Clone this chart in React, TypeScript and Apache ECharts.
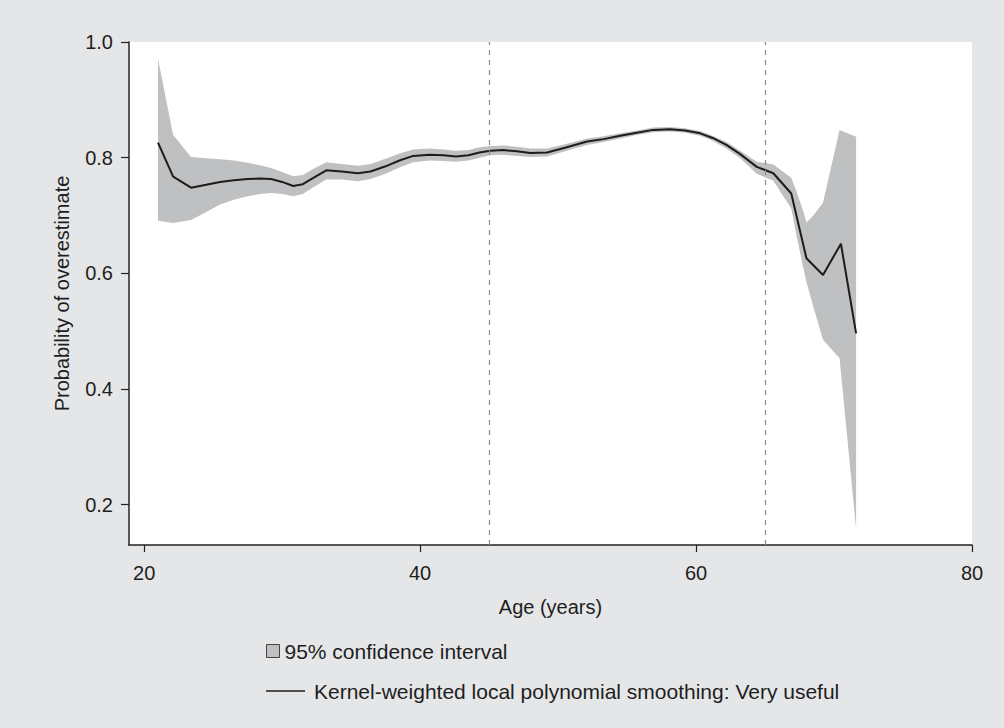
import React, { useEffect, useRef } from "react";
import * as echarts from "echarts";

// Kernel-weighted local polynomial smoothing (line)
const lineAges = [21.0, 22.1, 23.4, 24.5, 25.5, 26.5, 27.5, 28.4, 29.2, 30.0, 30.8, 31.5, 32.2, 33.2, 34.3, 35.5, 36.4, 37.5, 38.5, 39.5, 40.7, 41.7, 42.6, 43.5, 44.3, 45.1, 46.0, 47.0, 48.0, 49.2, 50.5, 52.1, 53.3, 54.5, 55.7, 56.9, 58.1, 59.2, 60.3, 61.2, 62.2, 63.2, 64.4, 65.6, 66.9, 68.0, 69.2, 70.5, 71.6];
const lineValues = [0.826, 0.767, 0.748, 0.753, 0.758, 0.761, 0.763, 0.764, 0.763, 0.758, 0.751, 0.754, 0.764, 0.778, 0.776, 0.773, 0.776, 0.785, 0.795, 0.803, 0.805, 0.804, 0.802, 0.804, 0.809, 0.812, 0.813, 0.811, 0.808, 0.809, 0.817, 0.828, 0.832, 0.838, 0.843, 0.848, 0.849, 0.847, 0.842, 0.834, 0.822, 0.806, 0.784, 0.773, 0.738, 0.626, 0.597, 0.651, 0.496];

// 95% confidence interval (band)
const bandAges = [21.0, 22.1, 23.4, 24.5, 25.5, 26.5, 27.5, 28.4, 29.2, 30.0, 30.8, 31.5, 32.2, 33.2, 34.3, 35.5, 36.4, 37.5, 38.5, 39.5, 40.7, 41.7, 42.6, 43.5, 44.3, 45.1, 46.0, 47.0, 48.0, 49.2, 50.5, 52.1, 53.3, 54.5, 55.7, 56.9, 58.1, 59.2, 60.3, 61.2, 62.2, 63.2, 64.4, 65.6, 66.9, 67.3, 67.8, 68.0, 68.5, 69.2, 70.4, 71.6];
const bandUpper = [0.971, 0.839, 0.801, 0.799, 0.797, 0.795, 0.791, 0.787, 0.782, 0.775, 0.768, 0.770, 0.780, 0.792, 0.789, 0.786, 0.789, 0.798, 0.807, 0.814, 0.816, 0.814, 0.812, 0.813, 0.818, 0.820, 0.821, 0.819, 0.816, 0.816, 0.823, 0.833, 0.837, 0.842, 0.847, 0.852, 0.853, 0.851, 0.846, 0.838, 0.827, 0.812, 0.793, 0.788, 0.765, 0.740, 0.705, 0.688, 0.700, 0.722, 0.848, 0.836];
const bandLower = [0.691, 0.687, 0.692, 0.706, 0.719, 0.727, 0.733, 0.737, 0.739, 0.737, 0.733, 0.737, 0.748, 0.762, 0.762, 0.759, 0.763, 0.772, 0.783, 0.792, 0.795, 0.794, 0.793, 0.795, 0.800, 0.804, 0.805, 0.803, 0.801, 0.802, 0.811, 0.822, 0.827, 0.833, 0.839, 0.844, 0.845, 0.843, 0.838, 0.829, 0.816, 0.799, 0.772, 0.760, 0.712, 0.663, 0.606, 0.585, 0.542, 0.485, 0.453, 0.158];

const xTicks = [20, 40, 60, 80];
const yTicks = [0.2, 0.4, 0.6, 0.8, 1.0];
const refLines = [45, 65];

const CI_NAME = "95% confidence interval";
const LINE_NAME = "Kernel-weighted local polynomial smoothing: Very useful";
const FONT = "'Liberation Sans', Arial, Helvetica, sans-serif";

export default function App() {
  const ref = useRef<HTMLDivElement>(null);
  useEffect(() => {
    document.body.style.margin = "0";
    const chart = echarts.init(ref.current!, null, { renderer: "svg" });
    const textBase = { fontFamily: FONT, color: "#1e1e1e" };
    chart.setOption({
      animation: false,
      backgroundColor: "#e5e6e8",
      textStyle: { fontFamily: FONT },
      grid: {
        left: 129,
        top: 42,
        width: 843,
        height: 503,
        show: true,
        backgroundColor: "#ffffff",
        borderWidth: 0,
      },
      xAxis: {
        type: "value",
        min: 18.9,
        max: 80,
        name: "Age (years)",
        nameLocation: "middle",
        nameGap: 52,
        nameTextStyle: { ...textBase, fontSize: 20 },
        axisLine: { show: true, lineStyle: { color: "#222", width: 1.5 } },
        axisTick: { show: true, customValues: xTicks, length: 7, lineStyle: { color: "#222", width: 1.2 } },
        axisLabel: { customValues: xTicks, ...textBase, fontSize: 20, margin: 18, formatter: (v: number) => String(v) },
        splitLine: { show: false },
      },
      yAxis: {
        type: "value",
        min: 0.13,
        max: 1.0,
        name: "Probability of overestimate",
        nameLocation: "middle",
        nameGap: 57,
        nameTextStyle: { ...textBase, fontSize: 20 },
        axisLine: { show: true, lineStyle: { color: "#222", width: 1.5 } },
        axisTick: { show: true, customValues: yTicks, length: 8, lineStyle: { color: "#222", width: 1.2 } },
        axisLabel: { customValues: yTicks, ...textBase, fontSize: 20, margin: 16, formatter: (v: number) => v.toFixed(1) },
        splitLine: { show: false },
      },
      legend: [
        {
          data: [{ name: CI_NAME, icon: "rect", itemStyle: { color: "#bfc0c2", borderColor: "#444", borderWidth: 1 } }],
          left: 261,
          top: 635,
          itemWidth: 13,
          itemHeight: 13,
          selectedMode: false,
          textStyle: { ...textBase, fontSize: 21, lineHeight: 22 },
        },
        {
          data: [{ name: LINE_NAME, icon: "rect", itemStyle: { color: "#1c1c1c", borderWidth: 0 } }],
          left: 261,
          top: 675,
          itemWidth: 39,
          itemHeight: 1.5,
          selectedMode: false,
          textStyle: { ...textBase, fontSize: 21, lineHeight: 22, padding: [0, 0, 0, 4] },
        },
      ],
      series: [
        {
          type: "custom",
          name: CI_NAME,
          itemStyle: { color: "#bfc0c2" },
          data: bandAges.map((a, i) => [a, bandLower[i], bandUpper[i]]),
          encode: { x: 0, y: [1, 2] },
          z: 1,
          silent: true,
          renderItem: (params: any, api: any) => {
            if (params.dataIndex !== 0) return null;
            const pts: number[][] = [];
            for (let i = 0; i < bandAges.length; i++) pts.push(api.coord([bandAges[i], bandUpper[i]]));
            for (let i = bandAges.length - 1; i >= 0; i--) pts.push(api.coord([bandAges[i], bandLower[i]]));
            return { type: "polygon", shape: { points: pts }, style: { fill: "#bfc0c2", stroke: "none" } };
          },
        },
        {
          type: "line",
          name: LINE_NAME,
          data: lineAges.map((a, i) => [a, lineValues[i]]),
          symbol: "none",
          smooth: false,
          z: 3,
          lineStyle: { color: "#1c1c1c", width: 2 },
          itemStyle: { color: "#1c1c1c" },
          markLine: {
            silent: true,
            symbol: "none",
            label: { show: false },
            lineStyle: { color: "#8a8a8a", width: 1.2, type: [5, 5] },
            data: refLines.map((v) => ({ xAxis: v })),
          },
        },
      ],
    });
    return () => chart.dispose();
  }, []);
  return <div ref={ref} style={{ width: 1004, height: 728 }} />;
}
